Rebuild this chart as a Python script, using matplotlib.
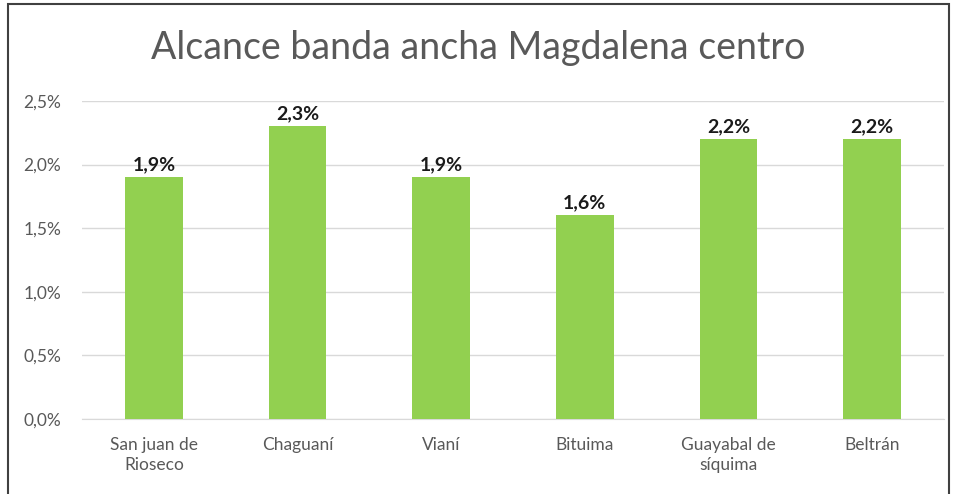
import matplotlib.pyplot as plt
from matplotlib.patches import Rectangle

categories = ['San juan de\nRioseco', 'Chaguaní', 'Vianí', 'Bituima', 'Guayabal de\nsíquima', 'Beltrán']
values = [0.019, 0.023, 0.019, 0.016, 0.022, 0.022]
yticks = [0.0, 0.005, 0.010, 0.015, 0.020, 0.025]

plt.rcParams['font.family'] = ['Lato', 'DejaVu Sans']

fig = plt.figure(figsize=(9.56, 4.94), dpi=100)
ax = fig.add_axes([0.0858, 0.152, 0.9016, 0.6435])

x = range(len(categories))
ax.bar(x, values, width=0.4, color='#92D050', zorder=3)

# etiquetas de valor
for xi, v in zip(x, values):
    ax.annotate(f'{v*100:.1f}%'.replace('.', ','), (xi, v), xytext=(0, 3),
                textcoords='offset points', ha='center', va='bottom',
                fontsize=14, fontweight='bold', color='#1a1a1a')

ax.set_ylim(0, 0.025)
ax.set_xlim(-0.5, len(categories) - 0.5)
ax.set_yticks(yticks)
ax.set_yticklabels([f'{t*100:.1f}%'.replace('.', ',') for t in yticks], fontsize=12.5)
ax.set_xticks(list(x))
ax.set_xticklabels(categories, fontsize=12.5, linespacing=1.3)
ax.tick_params(axis='both', length=0, colors='#595959')
ax.tick_params(axis='x', pad=13)
ax.tick_params(axis='y', pad=15)
ax.grid(axis='y', color='#D9D9D9', linewidth=1, zorder=0)
for s in ['top', 'right', 'left']:
    ax.spines[s].set_visible(False)
ax.spines['bottom'].set_color('#D9D9D9')

fig.text(0.5, 1 - 48 / 494, 'Alcance banda ancha Magdalena centro', ha='center', va='center',
         fontsize=27, color='#595959')

# borde del gráfico
fig.patches.append(Rectangle((8 / 956, -0.02), (949 - 8) / 956, 1 - 4 / 494 + 0.02,
                             transform=fig.transFigure, fill=False, edgecolor='#404040', linewidth=1.5))

fig.savefig('out.png', dpi=100)
